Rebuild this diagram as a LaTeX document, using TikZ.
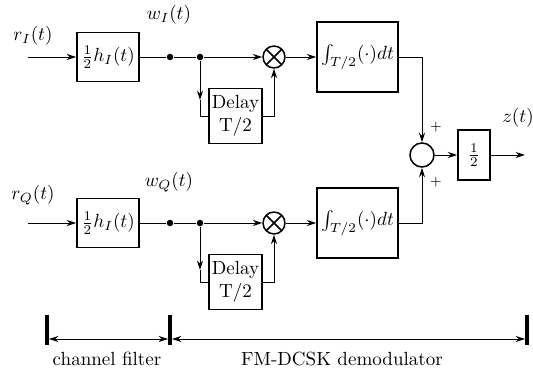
\documentclass[tikz,border=0pt]{standalone}
\usepackage{tikz}
\usetikzlibrary{positioning, arrows.meta, calc}

\begin{document}
\begin{tikzpicture}[x=0.525pt, y=-0.525pt,
                block/.style={draw=black, thick, rectangle, inner sep=1pt, font=\normalsize},
                hblock/.style={block, minimum width=32.6pt, minimum height=25.7pt},
                delaybox/.style={block, align=center, minimum width=27.8pt, minimum height=28.9pt},
                intblock/.style={block, minimum width=42.5pt, minimum height=36.8pt},
                halfblock/.style={block, minimum width=16.8pt, minimum height=26.2pt},
                mixer/.style={draw=black, thick, circle, inner sep=0pt, minimum size=11.5pt,
                    path picture={\draw[thick] (path picture bounding box.south west) -- (path picture bounding box.north east)
                                               (path picture bounding box.north west) -- (path picture bounding box.south east);}},
                adder/.style={draw=black, thick, circle, inner sep=0pt, minimum size=12.6pt},
                dot/.style={circle, fill=black, inner sep=0pt, minimum size=3.4pt},
                edge/.style={line width=0.5pt},
                arr/.style={-{Stealth[length=5pt, width=3.2pt]}},
                bar/.style={line width=2pt},
                varlabel/.style={font=\normalsize},
                signlabel/.style={font=\scriptsize}
            ]
            \useasboundingbox (0,0) rectangle (533,370);

            % Knoten oben
            \coordinate (inI) at (28,57);
            \node[varlabel] (rI) at (33,36) {$r_I(t)$};
            \node[hblock] (hI) at (108,57) {$\frac{1}{2}h_I(t)$};
            \node[dot] (jI) at (170,57) {};
            \node[varlabel] (wI) at (169,15) {$w_I(t)$};
            \node[dot] (sI) at (200,57) {};
            \node[delaybox] (dI) at (235.5,116) {Delay\\T/2};
            \node[mixer] (mI) at (274,57) {};
            \node[intblock] (iI) at (357.5,57) {$\int_{T/2}(\cdot)dt$};

            % Knoten unten
            \coordinate (inQ) at (28,223);
            \node[varlabel] (rQ) at (33,195) {$r_Q(t)$};
            \node[hblock] (hQ) at (108,223) {$\frac{1}{2}h_I(t)$};
            \node[dot] (jQ) at (170,223) {};
            \node[varlabel] (wQ) at (169,182) {$w_Q(t)$};
            \node[dot] (sQ) at (200,223) {};
            \node[delaybox] (dQ) at (235.5,282) {Delay\\T/2};
            \node[mixer] (mQ) at (274,223) {};
            \node[intblock] (iQ) at (357.5,223) {$\int_{T/2}(\cdot)dt$};

            % Summe und Ausgang
            \node[adder] (sum) at (422,155) {};
            \node[signlabel] (pI) at (436,127) {$+$};
            \node[signlabel] (pQ) at (436,182) {$+$};
            \node[halfblock] (half) at (474,155) {$\frac{1}{2}$};
            \coordinate (out) at (525,155);
            \node[varlabel] (z) at (518,118) {$z(t)$};

            % Kanten oben
            \draw[edge, arr] (inI) -- (hI);
            \draw[edge] (hI) -- (jI) -- (sI);
            \draw[edge, arr] (sI) -- (mI);
            \draw[edge, arr] (sI) -- ($(sI)+(0,43)$) coordinate (aI);
            \draw[edge] (aI) |- (dI.west);
            \draw[edge, arr] (dI.east) -| (mI.south);
            \draw[edge, arr] (mI) -- (iI);
            \draw[edge, arr] (iI.east) -| (sum.north);

            % Kanten unten
            \draw[edge, arr] (inQ) -- (hQ);
            \draw[edge] (hQ) -- (jQ) -- (sQ);
            \draw[edge, arr] (sQ) -- (mQ);
            \draw[edge, arr] (sQ) -- ($(sQ)+(0,47)$) coordinate (aQ);
            \draw[edge] (aQ) |- (dQ.west);
            \draw[edge, arr] (dQ.east) -| (mQ.south);
            \draw[edge, arr] (mQ) -- (iQ);
            \draw[edge, arr] (iQ.east) -| (sum.south);

            \draw[edge, arr] (sum) -- (half);
            \draw[edge, arr] (half) -- (out);

            % Bereiche
            \coordinate (b1) at (47,339);
            \coordinate (b2) at (170,339);
            \coordinate (b3) at (527,339);
            \foreach \b in {b1,b2,b3}
                \draw[bar] ($(\b)+(0,-24)$) -- ($(\b)+(0,6)$);
            \draw[edge, {Stealth[length=5pt, width=3.2pt]}-{Stealth[length=5pt, width=3.2pt]}, shorten <=1pt, shorten >=1pt] (b1) -- (b2);
            \draw[edge, {Stealth[length=5pt, width=3.2pt]}-{Stealth[length=5pt, width=3.2pt]}, shorten <=1pt, shorten >=1pt] (b2) -- (b3);
            \node[varlabel] (cf) at (107,359) {channel filter};
            \node[varlabel] (dm) at (342,359) {FM-DCSK demodulator};

        \end{tikzpicture}
\end{document}
